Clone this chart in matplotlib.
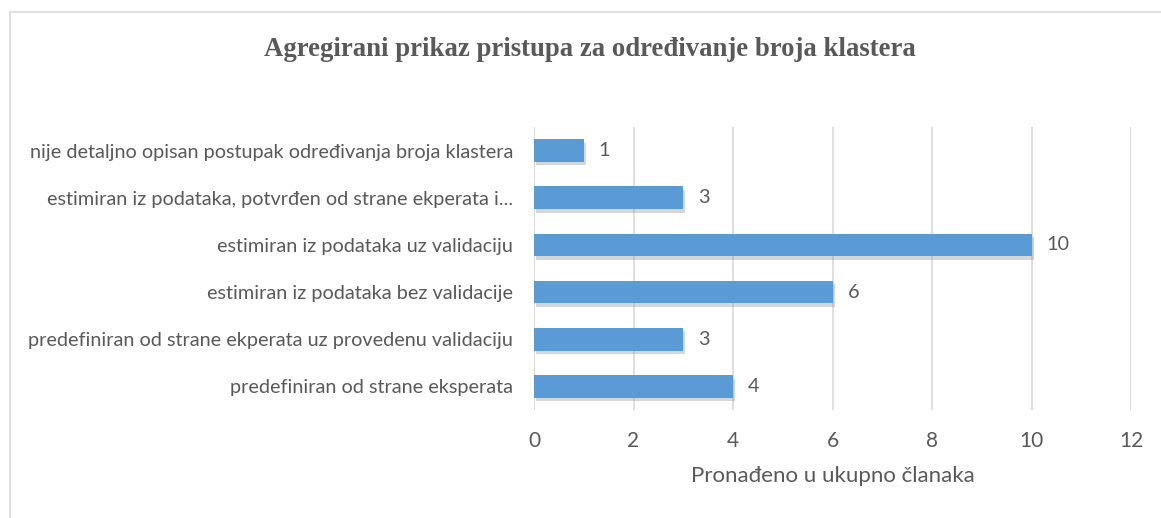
import numpy as np
import matplotlib.pyplot as plt
import matplotlib.patheffects as pe
from matplotlib.patches import Rectangle

categories = ['predefiniran od strane eksperata',
              'predefiniran od strane ekperata uz provedenu validaciju',
              'estimiran iz podataka bez validacije',
              'estimiran iz podataka uz validaciju',
              'estimiran iz podataka, potvrđen od strane ekperata i...',
              'nije detaljno opisan postupak određivanja broja klastera']
values = [4, 3, 6, 10, 3, 1]
xticks = [0, 2, 4, 6, 8, 10, 12]

txt = '#595959'
plt.rcParams['font.family'] = ['Lato', 'DejaVu Sans']

fig = plt.figure(figsize=(11.61, 5.18), dpi=100)
fig.patches.append(Rectangle((10/1161, -0.1), 1.2, 1 - 12/518 + 0.1, transform=fig.transFigure,
                             fill=False, edgecolor='#D9D9D9', lw=1.2))

ax = fig.add_axes([534/1161, 1 - 410/518, (1131 - 534)/1161, (410 - 127)/518])
y = np.arange(len(categories))
bars = ax.barh(y, values, height=0.48, color='#5B9BD5', zorder=3)
for b in bars:
    b.set_path_effects([pe.SimplePatchShadow(offset=(1.5, -2.5), shadow_rgbFace='#8C8C8C', alpha=0.35),
                        pe.Normal()])
for yi, v in zip(y, values):
    ax.text(v + 0.3, yi, str(v), va='center', ha='left', fontsize=14.3, color=txt)

ax.set_xlim(0, 12)
ax.set_ylim(-0.5, len(categories) - 0.5)
ax.set_xticks(xticks)
ax.set_yticks(y)
ax.set_yticklabels(categories)
ax.grid(axis='x', color='#D9D9D9', lw=1.2, zorder=0)
for s in ax.spines.values():
    s.set_visible(False)
ax.axvline(0, color='#D9D9D9', lw=1.2, zorder=1)
ax.tick_params(axis='y', length=0, labelsize=14.3, colors=txt, pad=15)
ax.tick_params(axis='x', length=0, labelsize=15, colors=txt, pad=15)
ax.set_xlabel('Pronađeno u ukupno članaka', fontsize=16, color=txt, labelpad=11)

fig.text(0.508, 1 - 50/518, 'Agregirani prikaz pristupa za određivanje broja klastera',
         ha='center', va='center', fontsize=19.3, fontweight='bold', color=txt,
         family=['Liberation Serif', 'DejaVu Serif'])

fig.savefig('out.png', dpi=100)
